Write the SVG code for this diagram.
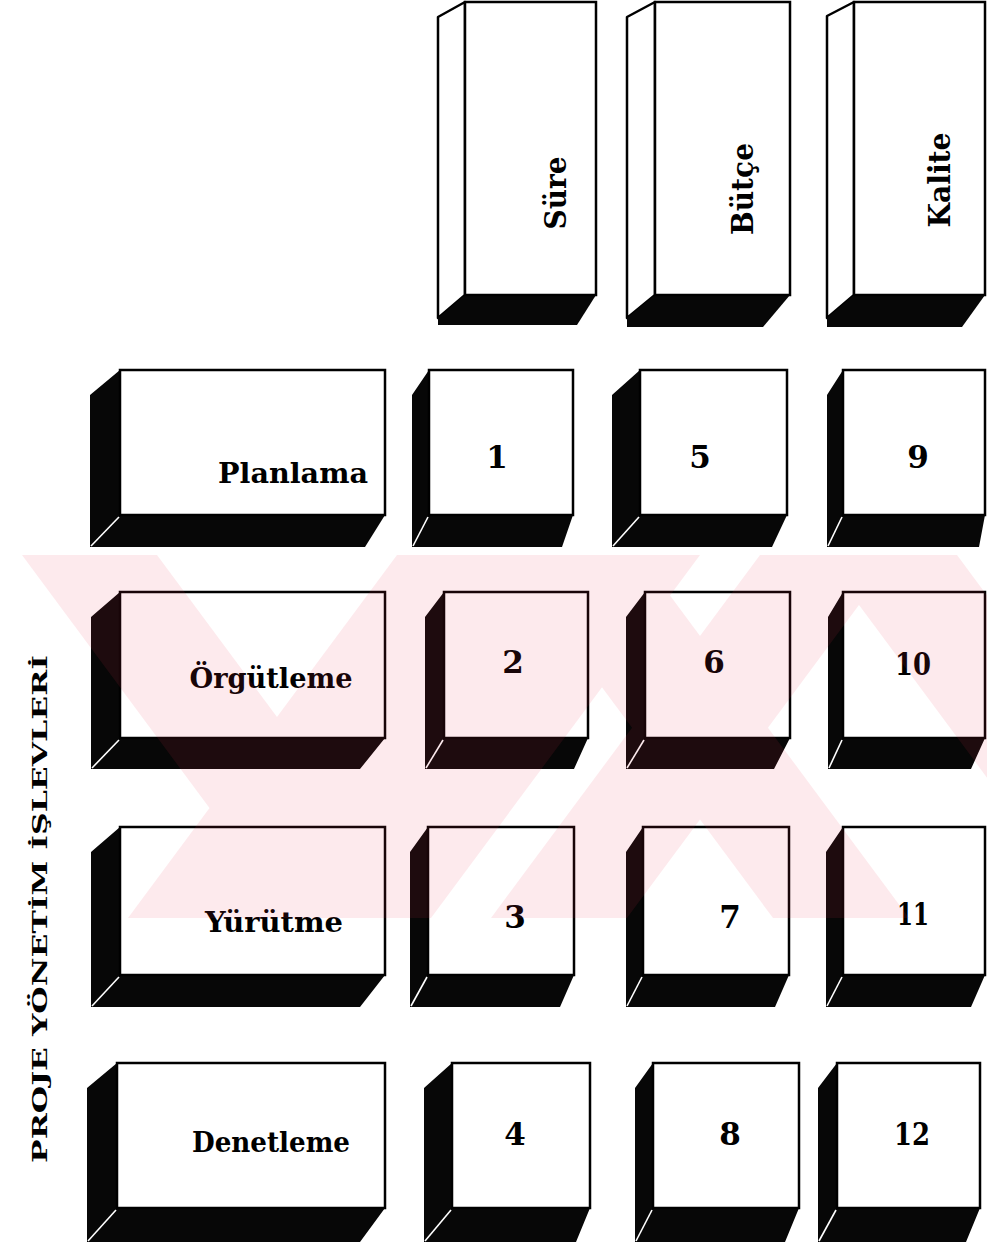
<svg xmlns="http://www.w3.org/2000/svg" width="987" height="1244" viewBox="0 0 987 1244">
<style>
.dark{fill:#070707}
.face{fill:#fff;stroke:#000;stroke-width:2.5}
.side{fill:#fff;stroke:#000;stroke-width:2.5;stroke-linejoin:round}
.edge{stroke:#fff;stroke-width:1.6}
.lbl{font-family:"DejaVu Serif","Liberation Serif",serif;font-weight:bold;fill:#000}
.num{font-size:31px;text-anchor:middle}
.row{font-size:28px;text-anchor:middle}
.col{font-size:30px;text-anchor:middle}
.wm{fill:#e8304a;fill-opacity:0.1}
</style>
<rect width="987" height="1244" fill="#fff"/>

<g id="col-sure">
<polygon class="side" points="438,17 465,2 465,295 438,318"/>
<polygon class="dark" points="438,318 465,295 596,295 577,325 438,325"/>
<rect class="face" x="465" y="2" width="131" height="293"/>
<text class="lbl col" transform="translate(566,193) rotate(-90)" textLength="73" lengthAdjust="spacingAndGlyphs">Süre</text>
</g>
<g id="col-butce">
<polygon class="side" points="627,17 655,2 655,295 627,318"/>
<polygon class="dark" points="627,318 655,295 790,295 763,327 627,327"/>
<rect class="face" x="655" y="2" width="135" height="293"/>
<text class="lbl col" transform="translate(753,189) rotate(-90)" textLength="92" lengthAdjust="spacingAndGlyphs">Bütçe</text>
</g>
<g id="col-kalite">
<polygon class="side" points="827,16 854,2 854,295 827,318"/>
<polygon class="dark" points="827,318 854,295 985,295 962,327 827,327"/>
<rect class="face" x="854" y="2" width="131" height="293"/>
<text class="lbl col" transform="translate(950,180) rotate(-90)" textLength="95" lengthAdjust="spacingAndGlyphs">Kalite</text>
</g>

<g id="row-planlama">
<polygon class="dark" points="90,395 120,370 120,515 385,515 365,547 90,547"/>
<line class="edge" x1="91" y1="546" x2="119" y2="517"/>
<rect class="face" x="120" y="370" width="265" height="145"/>
<text class="lbl row" x="293" y="483" textLength="150" lengthAdjust="spacingAndGlyphs">Planlama</text>
</g>
<g id="cell-1">
<polygon class="dark" points="412,395 429,370 429,515 573,515 562,547 412,547"/>
<line class="edge" x1="413" y1="546" x2="428" y2="517"/>
<rect class="face" x="429" y="370" width="144" height="145"/>
<text class="lbl num" x="497" y="468">1</text>
</g>
<g id="cell-5">
<polygon class="dark" points="612,395 640,370 640,515 787,515 772,547 612,547"/>
<line class="edge" x1="613" y1="546" x2="639" y2="517"/>
<rect class="face" x="640" y="370" width="147" height="145"/>
<text class="lbl num" x="700" y="468">5</text>
</g>
<g id="cell-9">
<polygon class="dark" points="827,395 843,370 843,515 985,515 979,547 827,547"/>
<line class="edge" x1="828" y1="546" x2="842" y2="517"/>
<rect class="face" x="843" y="370" width="142" height="145"/>
<text class="lbl num" x="918" y="468">9</text>
</g>

<g id="row-orgutleme">
<polygon class="dark" points="91,617 120,592 120,738 385,738 360,769 91,769"/>
<line class="edge" x1="92" y1="768" x2="119" y2="740"/>
<rect class="face" x="120" y="592" width="265" height="146"/>
<text class="lbl row" x="271" y="688" textLength="163" lengthAdjust="spacingAndGlyphs">Örgütleme</text>
</g>
<g id="cell-2">
<polygon class="dark" points="425,617 444,592 444,738 588,738 574,769 425,769"/>
<line class="edge" x1="426" y1="768" x2="443" y2="740"/>
<rect class="face" x="444" y="592" width="144" height="146"/>
<text class="lbl num" x="513" y="673">2</text>
</g>
<g id="cell-6">
<polygon class="dark" points="626,617 645,592 645,738 790,738 774,769 626,769"/>
<line class="edge" x1="627" y1="768" x2="644" y2="740"/>
<rect class="face" x="645" y="592" width="145" height="146"/>
<text class="lbl num" x="714" y="673">6</text>
</g>
<g id="cell-10">
<polygon class="dark" points="828,617 843,592 843,738 985,738 971,769 828,769"/>
<line class="edge" x1="829" y1="768" x2="842" y2="740"/>
<rect class="face" x="843" y="592" width="142" height="146"/>
<text class="lbl num" x="913" y="675" textLength="36" lengthAdjust="spacingAndGlyphs">10</text>
</g>

<g id="row-yurutme">
<polygon class="dark" points="91,852 120,827 120,975 385,975 360,1007 91,1007"/>
<line class="edge" x1="92" y1="1006" x2="119" y2="977"/>
<rect class="face" x="120" y="827" width="265" height="148"/>
<text class="lbl row" x="274" y="932" textLength="138" lengthAdjust="spacingAndGlyphs">Yürütme</text>
</g>
<g id="cell-3">
<polygon class="dark" points="410,852 428,827 428,975 574,975 560,1007 410,1007"/>
<line class="edge" x1="411" y1="1006" x2="427" y2="977"/>
<rect class="face" x="428" y="827" width="146" height="148"/>
<text class="lbl num" x="515" y="928">3</text>
</g>
<g id="cell-7">
<polygon class="dark" points="626,852 643,827 643,975 789,975 775,1007 626,1007"/>
<line class="edge" x1="627" y1="1006" x2="642" y2="977"/>
<rect class="face" x="643" y="827" width="146" height="148"/>
<text class="lbl num" x="730" y="928">7</text>
</g>
<g id="cell-11">
<polygon class="dark" points="826,852 843,827 843,975 985,975 971,1007 826,1007"/>
<line class="edge" x1="827" y1="1006" x2="842" y2="977"/>
<rect class="face" x="843" y="827" width="142" height="148"/>
<text class="lbl num" x="913" y="925" textLength="32" lengthAdjust="spacingAndGlyphs">11</text>
</g>

<g id="row-denetleme">
<polygon class="dark" points="87,1088 117,1063 117,1208 385,1208 360,1242 87,1242"/>
<line class="edge" x1="88" y1="1241" x2="116" y2="1210"/>
<rect class="face" x="117" y="1063" width="268" height="145"/>
<text class="lbl row" x="271" y="1152" textLength="158" lengthAdjust="spacingAndGlyphs">Denetleme</text>
</g>
<g id="cell-4">
<polygon class="dark" points="424,1088 452,1063 452,1208 590,1208 576,1242 424,1242"/>
<line class="edge" x1="425" y1="1241" x2="451" y2="1210"/>
<rect class="face" x="452" y="1063" width="138" height="145"/>
<text class="lbl num" x="515" y="1145">4</text>
</g>
<g id="cell-8">
<polygon class="dark" points="635,1088 653,1063 653,1208 799,1208 785,1242 635,1242"/>
<line class="edge" x1="636" y1="1241" x2="652" y2="1210"/>
<rect class="face" x="653" y="1063" width="146" height="145"/>
<text class="lbl num" x="730" y="1145">8</text>
</g>
<g id="cell-12">
<polygon class="dark" points="818,1088 837,1063 837,1208 980,1208 966,1242 818,1242"/>
<line class="edge" x1="819" y1="1241" x2="836" y2="1210"/>
<rect class="face" x="837" y="1063" width="143" height="145"/>
<text class="lbl num" x="912" y="1145" textLength="36" lengthAdjust="spacingAndGlyphs">12</text>
</g>

<g id="axis-label">
<text class="lbl" font-size="21" text-anchor="middle" transform="translate(47,909) rotate(-90)" textLength="508" lengthAdjust="spacingAndGlyphs">PROJE YÖNETİM İŞLEVLERİ</text>
</g>

<g id="connectors"></g>

<g id="watermark">
<path class="wm" d="M22,555 L157,555 L426,918 L291,918 Z M397,555 L700,555 L431,918 L128,918 Z M504,555 L640,555 L909,918 L773,918 Z M760,555 L896,555 L627,918 L491,918 Z M822,555 L957,555 L1226,918 L1091,918 Z"/>
</g>
</svg>
